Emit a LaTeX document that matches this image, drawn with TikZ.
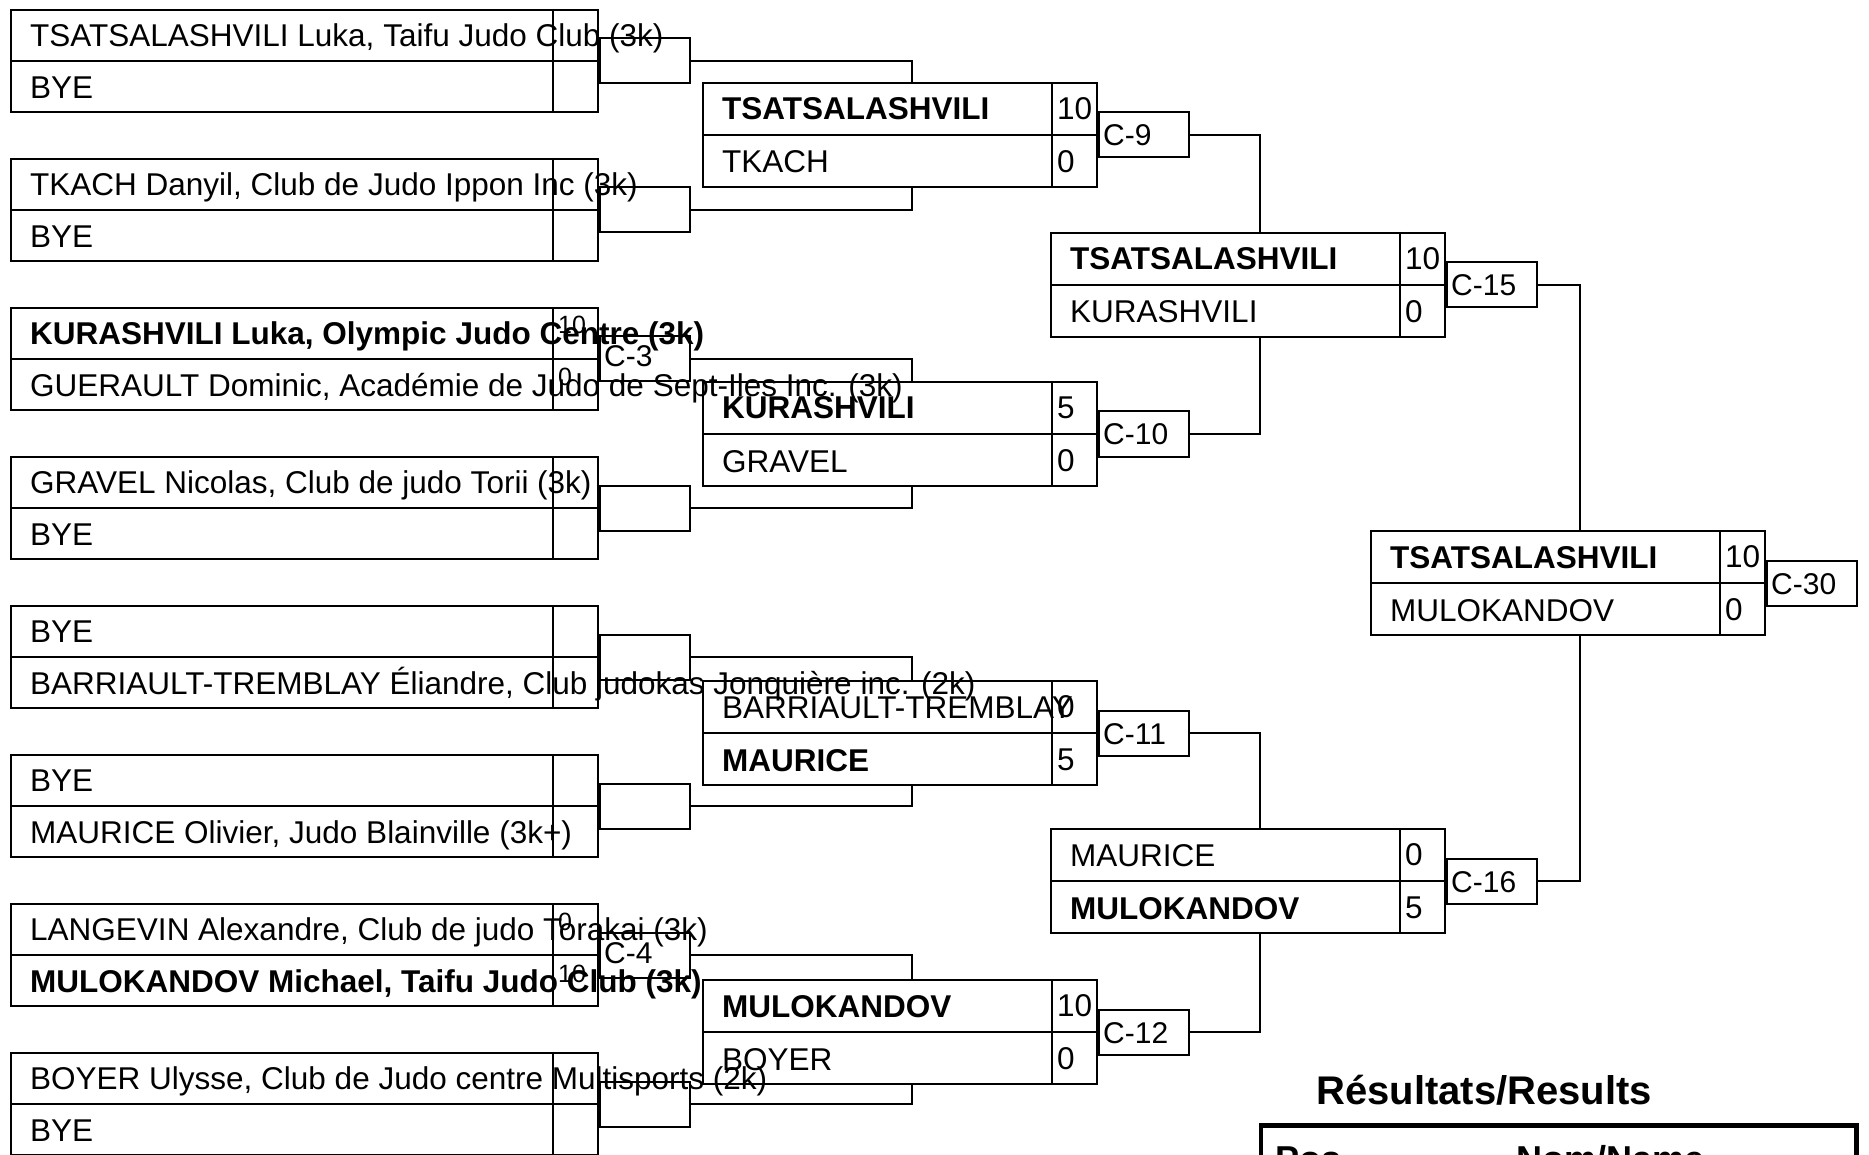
\documentclass[tikz,border=0pt]{standalone}
\usepackage{fontspec}
\setmainfont{Liberation Sans}
\usetikzlibrary{calc}
\newcommand{\bracketfont}{\fontsize{31.5}{36}\selectfont}
\newcommand{\smallscorefont}{\fontsize{25}{30}\selectfont}
\newcommand{\fightfont}{\fontsize{30}{34}\selectfont}
\tikzset{
  ln/.style={line width=2pt},
  mbox/.style={draw, line width=2pt, rectangle, anchor=north west, inner sep=0pt},
  rone/.style={minimum width=587pt, minimum height=102pt},
  rtwo/.style={minimum width=394pt, minimum height=104pt},
  fbox/.style={draw, line width=2pt, rectangle, anchor=west, minimum width=90pt, minimum height=45pt, inner sep=0pt},
  pname/.style={anchor=base west, inner sep=0pt, font=\bracketfont},
  pscore/.style={anchor=base west, inner sep=0pt, font=\bracketfont},
  fscore/.style={anchor=base west, inner sep=0pt, font=\smallscorefont},
  clab/.style={anchor=base west, inner sep=0pt, font=\fightfont},
}
% #1 name, #2 size style, #3 position, #4 top name, #5 bottom name,
% #6 top score, #7 bottom score, #8 score style, #9 score baseline offset
\newcommand{\MatchBox}[9]{%
  \node[mbox,#2] (#1) at (#3) {};
  \draw[ln] (#1.west) -- (#1.east);
  \draw[ln] ([xshift=-46pt]#1.north east) -- ([xshift=-46pt]#1.south east);
  \node[pname] (#1n1) at ($(#1.north west)!0.25!(#1.south west)+(20,11.5)$) {#4};
  \node[pname] (#1n2) at ($(#1.north west)!0.75!(#1.south west)+(20,11.5)$) {#5};
  \node[#8] (#1s1) at ($(#1.north east)!0.25!(#1.south east)+(-41,#9)$) {#6};
  \node[#8] (#1s2) at ($(#1.north east)!0.75!(#1.south east)+(-41,#9)$) {#7};
}
\begin{document}
\begin{tikzpicture}[x=1pt,y=-1pt]
\useasboundingbox (0,0) rectangle (1869,1155);
\clip (0,0) rectangle (1869,1155);

% Round 1
\MatchBox{a1}{rone}{10,9}{TSATSALASHVILI Luka, Taifu Judo Club (3k)}{BYE}{}{}{fscore}{1}
\MatchBox{a2}{rone}{10,158}{TKACH Danyil, Club de Judo Ippon Inc (3k)}{BYE}{}{}{fscore}{1}
\MatchBox{a3}{rone}{10,307}{\textbf{KURASHVILI Luka, Olympic Judo Centre (3k)}}{GUERAULT Dominic, Académie de Judo de Sept-Iles Inc. (3k)}{10}{0}{fscore}{1}
\MatchBox{a4}{rone}{10,456}{GRAVEL Nicolas, Club de judo Torii (3k)}{BYE}{}{}{fscore}{1}
\MatchBox{a5}{rone}{10,605}{BYE}{BARRIAULT-TREMBLAY Éliandre, Club judokas Jonquière inc. (2k)}{}{}{fscore}{1}
\MatchBox{a6}{rone}{10,754}{BYE}{MAURICE Olivier, Judo Blainville (3k+)}{}{}{fscore}{1}
\MatchBox{a7}{rone}{10,903}{LANGEVIN Alexandre, Club de judo Torakai (3k)}{\textbf{MULOKANDOV Michael, Taifu Judo Club (3k)}}{0}{10}{fscore}{1}
\MatchBox{a8}{rone}{10,1052}{BOYER Ulysse, Club de Judo centre Multisports (2k)}{BYE}{}{}{fscore}{1}

% Round 2
\MatchBox{b1}{rtwo}{702,82}{\textbf{TSATSALASHVILI}}{TKACH}{10}{0}{pscore}{11}
\MatchBox{b2}{rtwo}{702,381}{\textbf{KURASHVILI}}{GRAVEL}{5}{0}{pscore}{11}
\MatchBox{b3}{rtwo}{702,680}{BARRIAULT-TREMBLAY}{\textbf{MAURICE}}{0}{5}{pscore}{11}
\MatchBox{b4}{rtwo}{702,979}{\textbf{MULOKANDOV}}{BOYER}{10}{0}{pscore}{11}

% Round 3
\MatchBox{c1}{rtwo}{1050,232}{\textbf{TSATSALASHVILI}}{KURASHVILI}{10}{0}{pscore}{11}
\MatchBox{c2}{rtwo}{1050,828}{MAURICE}{\textbf{MULOKANDOV}}{0}{5}{pscore}{11}

% Final
\MatchBox{d1}{rtwo}{1370,530}{\textbf{TSATSALASHVILI}}{MULOKANDOV}{10}{0}{pscore}{11}

% Fight number boxes
\foreach \m in {a1,a2,a3,a4,a5,a6,a7,a8,b1,b2,b3,b4,c1,c2,d1}{
  \node[fbox] (f\m) at (\m.east) {};
}
\node[clab] (la3) at ($(fa3.west)+(5,8)$) {C-3};
\node[clab] (la7) at ($(fa7.west)+(5,8)$) {C-4};
\node[clab] (lb1) at ($(fb1.west)+(5,11)$) {C-9};
\node[clab] (lb2) at ($(fb2.west)+(5,11)$) {C-10};
\node[clab] (lb3) at ($(fb3.west)+(5,11)$) {C-11};
\node[clab] (lb4) at ($(fb4.west)+(5,11)$) {C-12};
\node[clab] (lc1) at ($(fc1.west)+(5,11)$) {C-15};
\node[clab] (lc2) at ($(fc2.west)+(5,11)$) {C-16};
\node[clab] (ld1) at ($(fd1.west)+(5,11)$) {C-30};

% Connectors
\draw[ln] (fa1.east) -| ([xshift=12pt]b1.north);
\draw[ln] (fa2.east) -| ([xshift=12pt]b1.south);
\draw[ln] (fa3.east) -| ([xshift=12pt]b2.north);
\draw[ln] (fa4.east) -| ([xshift=12pt]b2.south);
\draw[ln] (fa5.east) -| ([xshift=12pt]b3.north);
\draw[ln] (fa6.east) -| ([xshift=12pt]b3.south);
\draw[ln] (fa7.east) -| ([xshift=12pt]b4.north);
\draw[ln] (fa8.east) -| ([xshift=12pt]b4.south);
\draw[ln] (fb1.east) -| ([xshift=12pt]c1.north);
\draw[ln] (fb2.east) -| ([xshift=12pt]c1.south);
\draw[ln] (fb3.east) -| ([xshift=12pt]c2.north);
\draw[ln] (fb4.east) -| ([xshift=12pt]c2.south);
\draw[ln] (fc1.east) -| ([xshift=12pt]d1.north);
\draw[ln] (fc2.east) -| ([xshift=12pt]d1.south);

% Results
\node[anchor=base west, inner sep=0pt, font=\fontsize{40}{44}\selectfont\bfseries] (restitle) at (1316,1104) {Résultats/Results};
\node[draw, line width=4.5pt, rectangle, anchor=north west, inner sep=0pt, minimum width=595.5pt, minimum height=150pt] (restab) at (1258.5,1123) {};
\node[anchor=base west, inner sep=0pt, font=\fontsize{36}{40}\selectfont\bfseries] (hpos) at (1275,1171) {Pos};
\node[anchor=base west, inner sep=0pt, font=\fontsize{36}{40}\selectfont\bfseries] (hname) at (1516,1171) {Nom/Name};
\end{tikzpicture}
\end{document}
